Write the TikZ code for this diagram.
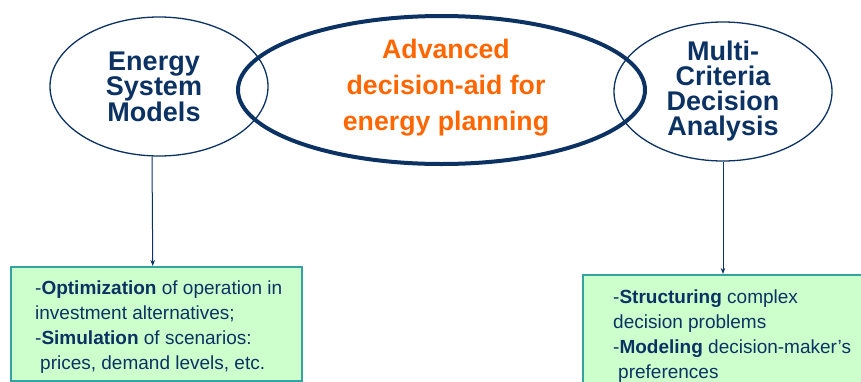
\documentclass[tikz,border=0pt]{standalone}
\usepackage{fontspec}
\setmainfont{Liberation Sans}
\usetikzlibrary{shapes.geometric,arrows.meta,calc}
\definecolor{navy}{HTML}{0B3263}
\definecolor{orng}{HTML}{FF6600}
\definecolor{boxfill}{HTML}{CCFFCC}
\definecolor{boxline}{HTML}{33A3A3}
\begin{document}
\begin{tikzpicture}[x=1pt,y=-1pt,
  sidebubble/.style={ellipse, draw=navy, line width=1.3pt, minimum width=218pt, minimum height=139pt, inner sep=0pt},
  mainbubble/.style={ellipse, draw=navy, line width=4pt, minimum width=407pt, minimum height=148pt, inner sep=0pt},
  sidetext/.style={align=center, inner sep=0pt, text=navy, font=\fontsize{27}{25}\selectfont\bfseries},
  maintext/.style={align=center, inner sep=0pt, text=orng, font=\fontsize{26.7}{36}\selectfont\bfseries},
  infobox/.style={draw=boxline, fill=boxfill, line width=1.5pt, inner sep=0pt, anchor=north west},
  infotext/.style={anchor=north west, inner sep=0pt, align=left, text=navy, font=\fontsize{19}{25}\selectfont},
  arr/.style={-{Stealth[length=6pt,width=4.5pt]}, navy, line width=1pt}]
\useasboundingbox (0,0) rectangle (861,381);
\clip (0,0) rectangle (861,381);
% boxes
\node[infobox, minimum width=291pt, minimum height=114pt] (lb) at (10,266) {};
\node[infobox, minimum width=300pt, minimum height=120pt] (rb) at (582,274) {};
\node[infotext] (lbt) at (35,280.2) {-\textbf{Optimization} of operation in\\investment alternatives;\\-\textbf{Simulation} of scenarios:\\\hspace{5pt}prices, demand levels, etc.};
\node[infotext] (rbt) at (613,289.3) {-\textbf{Structuring} complex\\decision problems\\-\textbf{Modeling} decision-maker’s\\\hspace{5pt}preferences};
% bubbles
\node[sidebubble] (esm) at (159,86.5) {};
\node[sidebubble] (mcda) at (723,91.5) {};
\node[mainbubble] (adv) at (441.5,90) {};
\node[sidetext] (esmt) at (154,87) {Energy\\System\\Models};
\node[sidetext] (mcdat) at (723,91) {Multi-\\Criteria\\Decision\\Analysis};
\node[maintext] (advt) at (446,87.4) {Advanced\\decision-aid for\\energy planning};
% connectors
\draw[arr] ([xshift=-7pt]esm.south) -- ([xshift=-3.5pt]lb.north);
\draw[arr] (mcda.south) -- (mcda.south |- rb.north);
\end{tikzpicture}
\end{document}
